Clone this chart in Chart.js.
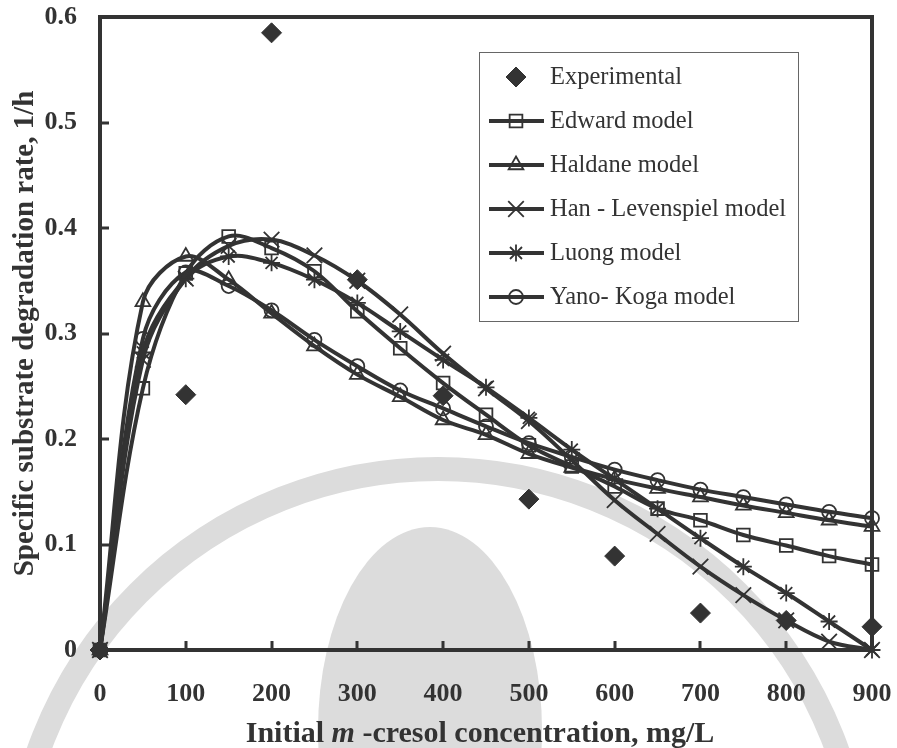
<!DOCTYPE html>
<html>
<head>
<meta charset="utf-8">
<script src="https://cdn.jsdelivr.net/npm/chart.js@4.4.1/dist/chart.umd.min.js"></script>
<style>
html,body{margin:0;padding:0;background:#fff;}
#wrap{width:897px;height:748px;position:relative;}
</style>
</head>
<body>
<div id="wrap"><canvas id="c" width="897" height="748"></canvas></div>
<script>
// ---------- data ----------
const concentrations = [0,50,100,150,200,250,300,350,400,450,500,550,600,650,700,750,800,850,900];
const experimentalX  = [0,100,200,300,400,500,600,700,800,900];
const experimental   = [0,0.242,0.585,0.351,0.241,0.143,0.089,0.035,0.028,0.022];
const edward   = [0,0.248,0.357,0.392,0.381,0.359,0.321,0.286,0.253,0.223,0.194,0.174,0.155,0.134,0.123,0.109,0.099,0.089,0.081];
const haldane  = [0,0.330,0.373,0.351,0.319,0.288,0.261,0.240,0.218,0.204,0.186,0.173,0.162,0.153,0.145,0.137,0.130,0.123,0.117];
const hanLev   = [0,0.275,0.352,0.383,0.389,0.374,0.350,0.318,0.281,0.248,0.217,0.180,0.142,0.110,0.079,0.052,0.028,0.008,0];
const luong    = [0,0.282,0.352,0.373,0.367,0.351,0.329,0.302,0.275,0.249,0.220,0.190,0.162,0.134,0.106,0.079,0.054,0.027,0];
const yanoKoga = [0,0.295,0.358,0.345,0.322,0.294,0.269,0.246,0.229,0.212,0.196,0.183,0.171,0.161,0.152,0.145,0.138,0.131,0.125];
const seriesNames = ['Experimental','Edward model','Haldane model','Han - Levenspiel model','Luong model','Yano- Koga model'];
const xTickLabels = ['0','100','200','300','400','500','600','700','800','900'];
const yTickLabels = ['0','0.1','0.2','0.3','0.4','0.5','0.6'];
const xTitleParts = [['Initial ', false], ['m', true], [' -cresol concentration, mg/L', false]];
const yTitle = 'Specific substrate degradation rate, 1/h';

// ---------- styles ----------
const INK = '#333333';
const SERIF = '"Liberation Serif", "Times New Roman", serif';

function pts(xs, ys){ return xs.map((x,i)=>({x:x, y:ys[i]})); }

const modelStyles = [
  {pointStyle:'rect',     radius:9},
  {pointStyle:'triangle', radius:8.5},
  {pointStyle:'crossRot', radius:11},
  {pointStyle:'star',     radius:8.5},
  {pointStyle:'circle',   radius:7}
];
const modelData = [edward, haldane, hanLev, luong, yanoKoga];

const datasets = [{
  label: seriesNames[0],
  data: pts(experimentalX, experimental),
  showLine: false,
  pointStyle: 'rectRot',
  pointRadius: 10,
  pointBackgroundColor: INK,
  pointBorderColor: INK,
  pointBorderWidth: 1,
  borderColor: INK,
  backgroundColor: INK,
  clip: false
}];
modelData.forEach((arr, i) => {
  datasets.push({
    label: seriesNames[i+1],
    data: pts(concentrations, arr),
    showLine: true,
    borderColor: INK,
    borderWidth: 4,
    tension: 0.35,
    pointStyle: modelStyles[i].pointStyle,
    pointRadius: modelStyles[i].radius,
    pointBackgroundColor: 'rgba(0,0,0,0)',
    pointBorderColor: INK,
    pointBorderWidth: 1.8,
    backgroundColor: 'rgba(0,0,0,0)',
    fill: false,
    clip: false
  });
});

// ---------- plugins ----------
const watermark = {
  id: 'watermark',
  beforeDraw(chart){
    const ctx = chart.ctx;
    ctx.save();
    ctx.fillStyle = '#ffffff';
    ctx.fillRect(0,0,chart.width,chart.height);
    ctx.strokeStyle = '#dcdcdc';
    ctx.lineWidth = 24;
    ctx.beginPath();
    ctx.arc(438, 893, 424, 0, Math.PI*2);
    ctx.stroke();
    ctx.fillStyle = '#dcdcdc';
    ctx.beginPath();
    ctx.ellipse(430, 730, 112, 203, 0, 0, Math.PI*2);
    ctx.fill();
    ctx.restore();
  }
};

const frame = {
  id: 'frame',
  beforeDatasetsDraw(chart){
    const {ctx, chartArea:a, scales} = chart;
    ctx.save();
    ctx.strokeStyle = INK;
    ctx.lineWidth = 4;
    ctx.strokeRect(a.left, a.top, a.right - a.left, a.bottom - a.top);
    ctx.lineWidth = 3;
    ctx.beginPath();
    scales.y.ticks.forEach(t => {
      const py = Math.round(scales.y.getPixelForValue(t.value));
      ctx.moveTo(a.left, py); ctx.lineTo(a.left + 9, py);
    });
    scales.x.ticks.forEach(t => {
      const px = Math.round(scales.x.getPixelForValue(t.value));
      ctx.moveTo(px, a.bottom); ctx.lineTo(px, a.bottom - 9);
    });
    ctx.stroke();
    ctx.restore();
  },
  afterDraw(chart){
    const ctx = chart.ctx;
    // x-axis title with italic "m"
    ctx.save();
    ctx.fillStyle = INK;
    ctx.textBaseline = 'alphabetic';
    const fonts = xTitleParts.map(p => (p[1] ? 'italic bold ' : 'bold ') + '30px ' + SERIF);
    let total = 0;
    const widths = xTitleParts.map((p,i) => { ctx.font = fonts[i]; const w = ctx.measureText(p[0]).width; total += w; return w; });
    let x = 480 - total/2;
    xTitleParts.forEach((p,i) => { ctx.font = fonts[i]; ctx.fillText(p[0], x, 742); x += widths[i]; });
    ctx.restore();
  }
};

const boxLegend = {
  id: 'boxLegend',
  afterDraw(chart){
    const ctx = chart.ctx;
    ctx.save();
    ctx.fillStyle = '#ffffff';
    ctx.fillRect(479.5, 52.5, 319, 269);
    ctx.strokeStyle = '#666666';
    ctx.lineWidth = 1;
    ctx.strokeRect(479.5, 52.5, 319, 269);
    const rows = [77, 121, 165, 209, 253, 297];
    chart.data.datasets.forEach((ds, i) => {
      const y = rows[i];
      if (ds.showLine) {
        ctx.strokeStyle = INK;
        ctx.lineWidth = 4;
        ctx.beginPath(); ctx.moveTo(489, y); ctx.lineTo(544, y); ctx.stroke();
      }
      ctx.strokeStyle = INK;
      ctx.fillStyle = ds.pointBackgroundColor;
      ctx.lineWidth = ds.pointBorderWidth;
      Chart.helpers.drawPoint(ctx, {pointStyle: ds.pointStyle, radius: ds.pointRadius, rotation: 0, borderWidth: ds.pointBorderWidth}, 516, y);
      ctx.fillStyle = INK;
      ctx.font = '24.5px ' + SERIF;
      ctx.textBaseline = 'middle';
      ctx.textAlign = 'left';
      ctx.fillText(ds.label, 550, y + 1);
    });
    ctx.restore();
  }
};

new Chart(document.getElementById('c'), {
  type: 'line',
  data: { datasets },
  options: {
    responsive: false,
    animation: false,
    devicePixelRatio: 1,
    layout: { padding: { top: 17, right: 25, left: 0, bottom: 0 } },
    plugins: { legend: { display: false }, tooltip: { enabled: false } },
    scales: {
      x: {
        type: 'linear', min: 0, max: 900,
        grid: { display: false, drawTicks: false },
        border: { display: false },
        ticks: {
          stepSize: 100, padding: 29, color: INK,
          font: { family: SERIF, size: 26, weight: 'bold' },
          callback: v => xTickLabels[Math.round(v/100)] ?? ''
        },
        afterFit: s => { s.height = 98; s.paddingLeft = 0; s.paddingRight = 0; }
      },
      y: {
        type: 'linear', min: 0, max: 0.6,
        grid: { display: false, drawTicks: false },
        border: { display: false },
        ticks: {
          stepSize: 0.1, padding: 23, color: INK,
          font: { family: SERIF, size: 26, weight: 'bold' },
          callback: v => yTickLabels[Math.round(v*10)] ?? ''
        },
        title: {
          display: true, text: yTitle, color: INK,
          font: { family: SERIF, size: 29, weight: 'bold' },
          padding: { top: 8, bottom: 0 }
        },
        afterFit: s => { s.width = 100; s.paddingTop = 0; s.paddingBottom = 0; }
      }
    }
  },
  plugins: [watermark, frame, boxLegend]
});
</script>
</body>
</html>
